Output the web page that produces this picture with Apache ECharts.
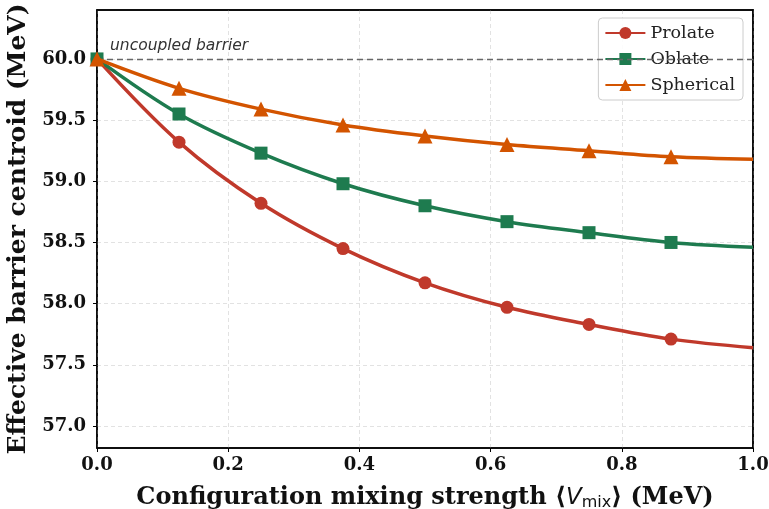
<!DOCTYPE html>
<html><head><meta charset="utf-8">
<script src="https://cdn.jsdelivr.net/npm/echarts@6/dist/echarts.min.js"></script>
<style>html,body{margin:0;padding:0;background:#fff}#c{width:769px;height:509px}</style>
</head><body><div id="c"></div>
<script>
const xVals = [0, 0.125, 0.25, 0.375, 0.5, 0.625, 0.75, 0.875, 1.0];
const prolate = [60.0, 59.32, 58.82, 58.45, 58.17, 57.97, 57.83, 57.71, 57.64];
const oblate = [60.0, 59.55, 59.23, 58.98, 58.80, 58.67, 58.58, 58.50, 58.46];
const spherical = [60.0, 59.76, 59.59, 59.46, 59.37, 59.30, 59.25, 59.20, 59.18];
const yTicks = [57.0, 57.5, 58.0, 58.5, 59.0, 59.5, 60.0];
const seriesNames = ['Prolate', 'Oblate', 'Spherical'];
const baseline = 60.0;

const colors = ['#c0392b', '#1e7b4f', '#d35400'];
const symbols = ['circle', 'rect', 'triangle'];
const sizes = [13, 13, 15];

function mk(vals, i) {
  return {
    name: seriesNames[i], type: 'line', smooth: 0.35,
    symbol: symbols[i], symbolSize: sizes[i],
    lineStyle: {color: colors[i], width: 3.5},
    itemStyle: {color: colors[i]},
    z: 3 + i,
    data: vals.map((v, k) => k === vals.length - 1
      ? {value: [xVals[k], v], symbol: 'none'}
      : [xVals[k], v])
  };
}
const series = [mk(prolate, 0), mk(oblate, 1), mk(spherical, 2)];
series[0].markLine = {
  silent: true, symbol: 'none',
  lineStyle: {color: '#666', type: [6, 4], width: 1.4},
  label: {show: true, position: 'insideStartTop', formatter: 'uncoupled barrier',
    fontFamily: 'DejaVu Sans', fontStyle: 'italic', fontSize: 15.5, color: '#333', distance: [13, 5]},
  data: [{yAxis: baseline}]
};

const labelStyle = {fontFamily: 'DejaVu Serif', fontWeight: 'bold', fontSize: 18, color: '#111'};
const chart = echarts.init(document.getElementById('c'), null, {renderer: 'canvas'});
chart.setOption({
  animation: false,
  backgroundColor: '#fff',
  grid: {left: 97, right: 16, top: 10, bottom: 61, show: true, borderColor: '#000', borderWidth: 1.5,
    backgroundColor: 'transparent', containLabel: false, outerBoundsMode: 'none'},
  legend: {
    data: seriesNames, right: 26, top: 18, orient: 'vertical', itemGap: 8,
    itemWidth: 40, itemHeight: 15,
    backgroundColor: 'rgba(255,255,255,0.9)', borderColor: '#ccc', borderWidth: 1, borderRadius: 4,
    padding: [6, 8, 6, 6],
    textStyle: {fontFamily: 'DejaVu Serif', fontSize: 17.5, color: '#222'}
  },
  xAxis: [{
    type: 'value', min: 0, max: 1, interval: 0.2,
    name: '{b|Configuration mixing strength ⟨}{i|V}{s|mix}{b|⟩ (MeV)}',
    nameLocation: 'middle', nameGap: 37,
    nameTextStyle: {rich: {
      b: {fontFamily: 'DejaVu Serif', fontWeight: 'bold', fontSize: 24, color: '#111'},
      i: {fontFamily: 'DejaVu Sans', fontStyle: 'italic', fontSize: 23, color: '#111'},
      s: {fontFamily: 'DejaVu Sans', fontSize: 16, color: '#111', verticalAlign: 'bottom', padding: [10, 0, 0, 0]}
    }},
    axisLine: {show: true, lineStyle: {color: '#000', width: 1.5}},
    axisTick: {show: true, length: 4, lineStyle: {color: '#000'}},
    axisLabel: Object.assign({formatter: v => v.toFixed(1), margin: 8}, labelStyle),
    splitLine: {show: true, lineStyle: {color: '#e2e2e2', type: [4, 3], width: 1}}
  }, {
    type: 'value', min: 0, max: 1, position: 'top',
    axisLine: {show: true, onZero: false, lineStyle: {color: '#000', width: 1.5}},
    axisTick: {show: false}, axisLabel: {show: false}, splitLine: {show: false}
  }],
  yAxis: [{
    type: 'value', min: 56.82, max: 60.40,
    name: 'Effective barrier centroid (MeV)',
    nameLocation: 'middle', nameGap: 58,
    nameTextStyle: {fontFamily: 'DejaVu Serif', fontWeight: 'bold', fontSize: 25, color: '#111'},
    axisLine: {show: true, lineStyle: {color: '#000', width: 1.5}},
    axisTick: {show: true, length: 4, lineStyle: {color: '#000'}, customValues: yTicks},
    axisLabel: Object.assign({customValues: yTicks, formatter: v => v.toFixed(1), margin: 11}, labelStyle),
    splitLine: {show: true, lineStyle: {color: '#e2e2e2', type: [4, 3], width: 1}}
  }, {
    type: 'value', min: 56.82, max: 60.40, position: 'right',
    axisLine: {show: true, onZero: false, lineStyle: {color: '#000', width: 1.5}},
    axisTick: {show: false}, axisLabel: {show: false}, splitLine: {show: false}
  }],
  series: series
});
</script></body></html>
